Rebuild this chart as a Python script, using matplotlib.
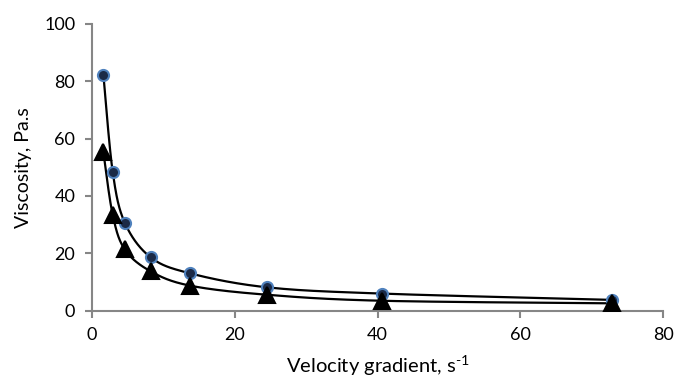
import numpy as np
import matplotlib
matplotlib.use("Agg")
import matplotlib.pyplot as plt

shear_rate = [1.6, 2.9, 4.6, 8.2, 13.7, 24.5, 40.6, 72.9]
visc_circle = [82.2, 48.4, 30.6, 18.6, 13.0, 8.1, 5.9, 3.7]
visc_triangle = [55.2, 33.4, 21.3, 13.7, 8.7, 5.5, 3.4, 2.5]

def smooth(x, y, n=40, t=0.5):
    x = np.asarray(x, float); y = np.asarray(y, float)
    px = np.concatenate([[x[0]], x, [x[-1]]])
    py = np.concatenate([[y[0]], y, [y[-1]]])
    xs, ys = [], []
    s = np.linspace(0, 1, n)
    for i in range(1, len(px) - 2):
        p0, p1, p2, p3 = [np.array([px[j], py[j]]) for j in (i-1, i, i+1, i+2)]
        c1 = p1 + (p2 - p0) * t / 3
        c2 = p2 - (p3 - p1) * t / 3
        for u in s:
            b = (1-u)**3*p1 + 3*(1-u)**2*u*c1 + 3*(1-u)*u**2*c2 + u**3*p2
            xs.append(b[0]); ys.append(b[1])
    return xs, ys

plt.rcParams['font.family'] = ['Lato', 'DejaVu Sans']
plt.rcParams['mathtext.fontset'] = 'custom'
plt.rcParams['mathtext.rm'] = 'Lato'
fig = plt.figure(figsize=(6.75, 3.79), dpi=100)
ax = fig.add_axes([92/675, (379-310.5)/379, (663-92)/675, (310.5-24)/379])

gray = '#868686'
for yv, mk, ms, fc, ec in [(visc_circle, 'o', 8, '#1b2a47', '#4f81bd'),
                           (visc_triangle, '^', 11, 'black', 'black')]:
    sx, sy = smooth(shear_rate, yv)
    ax.plot(sx, sy, color='black', lw=1.6, zorder=2)
    ax.plot(shear_rate, yv, linestyle='none', marker=mk, ms=ms,
            mfc=fc, mec=ec, mew=1.5, zorder=3)

ax.set_xlim(0, 80)
ax.set_ylim(0, 100)
ax.set_xticks([0, 20, 40, 60, 80])
ax.set_yticks([0, 20, 40, 60, 80, 100])
for s in ['top', 'right']:
    ax.spines[s].set_visible(False)
for s in ['left', 'bottom']:
    ax.spines[s].set_color(gray)
    ax.spines[s].set_linewidth(1.5)
ax.tick_params(axis='both', colors=gray, labelcolor='black', labelsize=13,
               length=5, width=1.5, direction='out', pad=7)
ax.set_xlabel(r'Velocity gradient, s$^{\text{-1}}$', fontsize=14.5, labelpad=7)
ax.set_ylabel('Viscosity, Pa.s', fontsize=14, labelpad=9)
fig.savefig('out.png', dpi=100)
